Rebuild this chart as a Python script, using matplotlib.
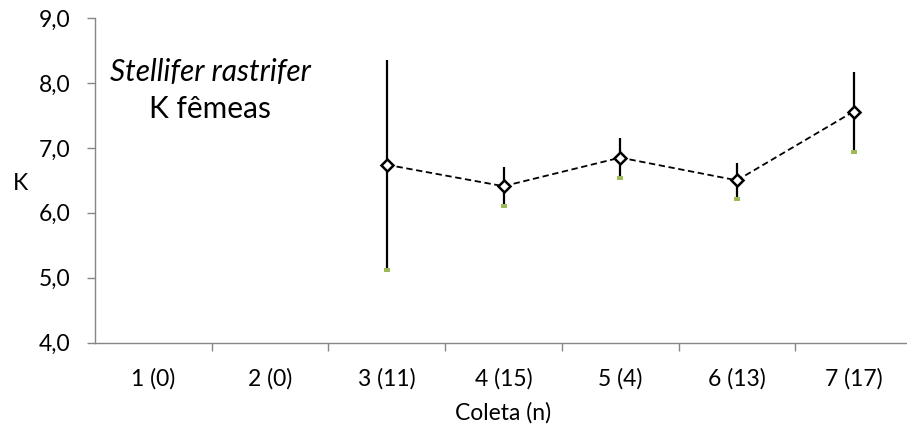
import numpy as np
import matplotlib
matplotlib.use("Agg")
import matplotlib.pyplot as plt

plt.rcParams['font.family'] = ['Lato', 'DejaVu Sans']

categories = ["1 (0)", "2 (0)", "3 (11)", "4 (15)", "5 (4)", "6 (13)", "7 (17)"]
k_mean = [np.nan, np.nan, 6.74, 6.41, 6.85, 6.50, 7.56]
k_upper = [np.nan, np.nan, 8.36, 6.70, 7.15, 6.76, 8.17]
k_lower = [np.nan, np.nan, 5.12, 6.11, 6.54, 6.22, 6.93]
y_ticks = [4.0, 5.0, 6.0, 7.0, 8.0, 9.0]

W, H = 907, 432
fig = plt.figure(figsize=(W / 100, H / 100), dpi=100)
left, right, bottom, top = 95, 912, 342.7, 18
ax = fig.add_axes([left / W, (H - bottom) / H, (right - left) / W, (bottom - top) / H])

x = np.arange(1, len(categories) + 1)
mean = np.array(k_mean)
up = np.array(k_upper)
lo = np.array(k_lower)

axis_col = '#868686'
fs = 16.5

ax.errorbar(x, mean, yerr=[mean - lo, up - mean], fmt='none', ecolor='black',
            elinewidth=1.6, capsize=0, zorder=2)
rect = [(-1, -0.6), (1, -0.6), (1, 0.6), (-1, 0.6), (-1, -0.6)]
ax.plot(x, lo, linestyle='none', marker=rect, markersize=4, color='#9bbb59',
        markeredgewidth=0, zorder=3)
ax.plot(x, mean, linestyle=(0, (3.5, 2)), color='black', linewidth=1.3,
        marker='D', markersize=6, markerfacecolor='white', markeredgecolor='black',
        markeredgewidth=1.8, zorder=4)

ax.set_xlim(0.5, 7.5)
ax.set_ylim(4.0, 9.0)
ax.set_yticks(y_ticks)
ax.set_yticklabels([f"{v:.1f}".replace('.', ',') for v in y_ticks], fontsize=fs)
ax.set_xticks(x)
ax.set_xticklabels(categories, fontsize=fs)
ax.set_xticks(np.arange(1.5, 7.5, 1.0), minor=True)

ax.tick_params(axis='x', which='major', length=0, pad=18)
ax.tick_params(axis='x', which='minor', length=6, width=1, color=axis_col, direction='out')
ax.tick_params(axis='y', which='major', length=6, width=1, color=axis_col, direction='out', pad=12)

for s in ['top', 'right']:
    ax.spines[s].set_visible(False)
for s in ['left', 'bottom']:
    ax.spines[s].set_color(axis_col)
    ax.spines[s].set_linewidth(1.0)

fig.text(13 / W, 1 - 183 / H, "K", fontsize=fs, ha='left', va='center')
fig.text(503 / W, 1 - 413 / H, "Coleta (n)", fontsize=fs, ha='center', va='center')
fig.text(210 / W, 1 - 72 / H, "Stellifer rastrifer", fontsize=21.5, style='italic',
         ha='center', va='center')
fig.text(210 / W, 1 - 109 / H, "K fêmeas", fontsize=21.5, ha='center', va='center')

fig.savefig("out.png", dpi=100)
